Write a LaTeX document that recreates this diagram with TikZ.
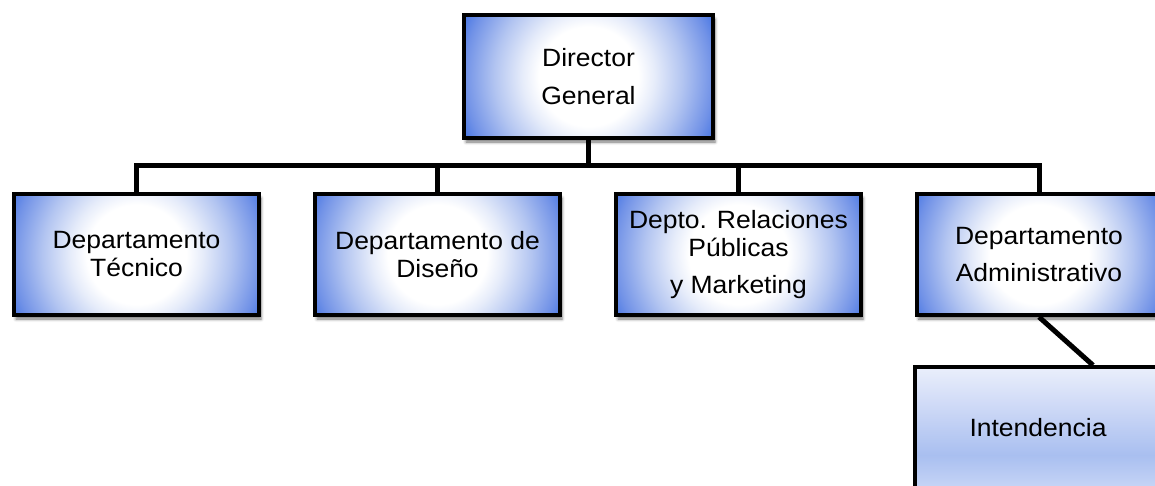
\documentclass[tikz,border=0pt]{standalone}
\usepackage{fontspec}
\setmainfont{Liberation Sans}[FakeStretch=1.06]
\usetikzlibrary{shadows.blur}
\definecolor{bcorner}{HTML}{4A78E4}
\definecolor{blA}{HTML}{E6ECFA}
\definecolor{blB}{HTML}{B3C5F1}
\definecolor{blC}{HTML}{7192E7}
\definecolor{iA}{HTML}{EAEFFB}
\definecolor{iB}{HTML}{D2DCF7}
\definecolor{iC}{HTML}{A9BFF0}
\definecolor{iD}{HTML}{C4D3F5}
\pgfdeclareradialshading{boxrad}{\pgfpoint{0bp}{0bp}}{color(0bp)=(white); color(9bp)=(white); color(12bp)=(blA); color(17bp)=(blB); color(22.5bp)=(blC); color(25bp)=(bcorner); color(50bp)=(bcorner)}
\pgfdeclareverticalshading{intshade}{100bp}{color(0bp)=(iD); color(26bp)=(iD); color(38.6bp)=(iC); color(61bp)=(iB); color(75bp)=(iA); color(100bp)=(iA)}
\tikzset{
  orgbox/.style={draw=black, line width=4pt, minimum width=245pt, minimum height=121pt,
    inner sep=0pt, align=center, font=\fontsize{25}{28}\selectfont,
    blur shadow={shadow xshift=2pt, shadow yshift=-4pt, shadow blur radius=3pt, shadow opacity=55},
    path picture={\shade[shading=boxrad] (path picture bounding box.center) circle[radius=138pt];}},
  intbox/.style={draw=black, line width=3.5pt, minimum width=356pt, minimum height=121pt,
    inner sep=0pt, shading=intshade,
    blur shadow={shadow xshift=2pt, shadow yshift=-4pt, shadow blur radius=3pt, shadow opacity=55}},
  conn/.style={draw=black, line width=5pt, line join=miter}
}
\begin{document}
\begin{tikzpicture}[x=1pt,y=1pt]
\useasboundingbox (0,0) rectangle (1155,-485);
\coordinate (bus) at (0,-165);
\node[orgbox, minimum width=249pt, minimum height=123pt] (dir) at (588.5,-76.5) {Director\\[10pt]General};
\node[orgbox] (b1) at (136.5,-254.5) {Departamento\\Técnico};
\node[orgbox] (b2) at (437.5,-254.5) {Departamento de\\Diseño};
\node[orgbox] (b3) at (738.5,-254.5) {Depto. Relaciones\\Públicas\\[9pt]y Marketing};
\node[orgbox] (b4) at (1039,-254.5) {Departamento\\[9pt]Administrativo};
\node[intbox, label={[xshift=-55pt, font=\fontsize{25}{28}\selectfont]center:Intendencia}] (int) at (1093,-427.5) {};
\draw[conn] (dir.south) -- (dir.south |- bus);
\draw[conn] (b1.north) |- (b4.north |- bus) -- (b4.north);
\draw[conn] (b2.north) -- (b2.north |- bus);
\draw[conn] (b3.north) -- (b3.north |- bus);
\draw[conn] (b4.south) -- (int.north);
\end{tikzpicture}
\end{document}
